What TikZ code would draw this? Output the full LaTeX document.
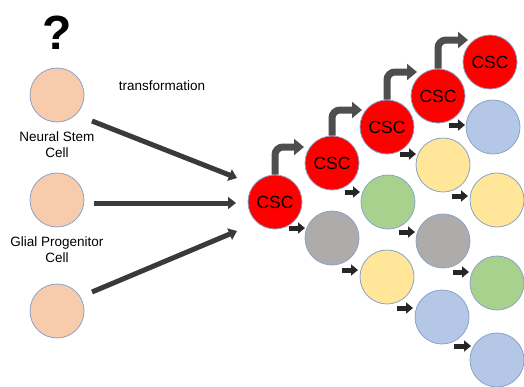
\documentclass[tikz,border=0pt]{standalone}
\usepackage{fontspec}
\setmainfont{Liberation Sans}
\usepackage{tikz}
\usetikzlibrary{arrows.meta,positioning,calc}
\definecolor{peach}{HTML}{F8CBAD}
\definecolor{rim}{HTML}{8AA3C6}
\definecolor{cscred}{HTML}{FF0000}
\definecolor{leaf}{HTML}{A9D18E}
\definecolor{sand}{HTML}{FFE699}
\definecolor{stone}{HTML}{AEABAB}
\definecolor{sky}{HTML}{B4C7E7}
\definecolor{shaft}{HTML}{3A3A3A}
\definecolor{ink}{HTML}{262626}

\begin{document}
\begin{tikzpicture}[x=1pt, y=-1pt, >={Triangle[length=8pt,width=12pt]}]
\tikzstyle{cell}=[circle,draw=rim,line width=0.8pt,minimum size=54pt,inner sep=0pt]
\tikzstyle{csc}=[cell,fill=cscred,font=\fontsize{17.5}{20}\selectfont]
\tikzstyle{lbl}=[align=center,inner sep=0pt,font=\fontsize{13.5}{16}\selectfont]
\tikzstyle{bigarrow}=[->,draw=shaft,line width=5pt]
\tikzstyle{renew}=[-{Triangle[length=10pt,width=16pt]},draw=shaft!90!white,line width=7pt,rounded corners=8pt]
\tikzstyle{small}=[-{Triangle[length=7pt,width=11pt]},draw=ink,line width=5pt]
\useasboundingbox (0,0) rectangle (524,386);
% sources
\node[cell,fill=peach]  (nsc) at (57,95)          {};
\node[cell,fill=peach]  (gpc) at (57,200)         {};
\node[cell,fill=peach]  (unk) at (57,311)         {};
\node[lbl,font=\fontsize{48}{50}\bfseries] (q) [above=18pt of nsc] {?};
\node[lbl] (nsclbl) [below=9pt of nsc] {Neural Stem\\Cell};
\node[lbl] (gpclbl) [below=9pt of gpc] {Glial Progenitor\\Cell};
\node[lbl] (tr) at (162,86) {transformation};
% cancer stem cells
\node[csc] (c1) at (275,202) {CSC};
\node[csc] (c2) at (332,163) {CSC};
\node[csc] (c3) at (387,127) {CSC};
\node[csc] (c4) at (438,96)  {CSC};
\node[csc] (c5) at (490,62)  {CSC};
% progeny
\node[cell,fill=stone] (g1) at (332,238) {};
\node[cell,fill=leaf]  (l1) at (388,202) {};
\node[cell,fill=sand]  (s1) at (387,277) {};
\node[cell,fill=sand]  (s2) at (443,165) {};
\node[cell,fill=stone] (g2) at (443,241) {};
\node[cell,fill=sky]   (b1) at (442,317) {};
\node[cell,fill=sky]   (b2) at (493,127) {};
\node[cell,fill=sand]  (s3) at (497,200) {};
\node[cell,fill=leaf]  (l2) at (497,283) {};
\node[cell,fill=sky]   (b3) at (497,360) {};
% transformation
\draw[bigarrow] ($(nsc)+(35,26)$) -- ($(c1)+(-38,-24)$);
\draw[bigarrow] ($(gpc)+(37,3)$)  -- ($(c1)+(-39,1)$);
\draw[bigarrow] ($(unk)+(35,-19)$) -- ($(c1)+(-38,29)$);
% self renewal
\draw[renew] (c1.north) |- ($(c2)+(-28,-16)$);
\draw[renew] (c2.north) |- ($(c3)+(-25,-17)$);
\draw[renew] (c3.north) |- ($(c4)+(-21,-24)$);
\draw[renew] (c4.north) |- ($(c5)+(-22,-22)$);
% differentiation
\draw[small] ($(g1)+(-43,-10)$) -- ($(g1)+(-27,-10)$);
\draw[small] ($(l1)+(-43,-10)$) -- ($(l1)+(-28,-10)$);
\draw[small] ($(s1)+(-45,-7)$)  -- ($(s1)+(-29,-7)$);
\draw[small] ($(s2)+(-43,-11)$) -- ($(s2)+(-27,-11)$);
\draw[small] ($(g2)+(-44,-9)$)  -- ($(g2)+(-28,-9)$);
\draw[small] ($(b1)+(-45,-9)$)  -- ($(b1)+(-29,-9)$);
\draw[small] ($(b2)+(-44,-2)$)  -- ($(b2)+(-28,-2)$);
\draw[small] ($(s3)+(-45,-4)$)  -- ($(s3)+(-29,-4)$);
\draw[small] ($(l2)+(-44,-11)$) -- ($(l2)+(-28,-11)$);
\draw[small] ($(b3)+(-43,-14)$) -- ($(b3)+(-26,-14)$);
\end{tikzpicture}
\end{document}
